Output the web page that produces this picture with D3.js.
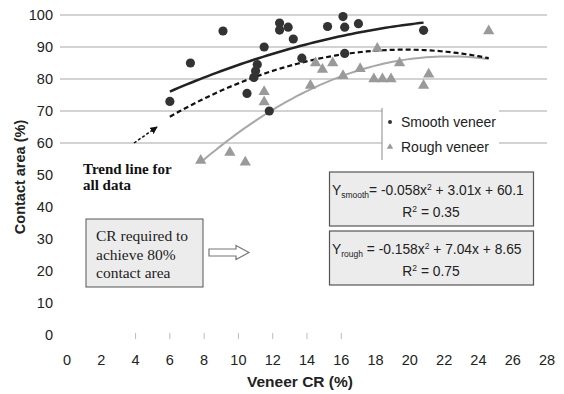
<!DOCTYPE html>
<html>
<head>
<meta charset="utf-8">
<script src="https://cdn.jsdelivr.net/npm/d3@7"></script>
<style>
  html, body { margin: 0; padding: 0; background: #fff; }
  svg { display: block; }
  text { font-family: "Liberation Sans", Arial, sans-serif; }
</style>
</head>
<body>
<svg id="chart" width="564" height="394"></svg>
<script>
// Contact area vs. veneer compression ratio (CR)
const smoothX = [6.0, 7.2, 9.1, 10.5, 10.9, 11.0, 11.1, 11.5, 11.8, 12.4, 12.4, 12.9, 13.2, 13.7, 15.2, 16.1, 16.2, 16.2, 17.0, 20.8];
const smoothY = [73, 85, 95, 75.5, 80.5, 82.5, 84.5, 90, 70, 97.5, 95.3, 96.2, 92.5, 86.5, 96.4, 99.5, 96.2, 88, 97.3, 95.2];

const roughX = [7.8, 9.5, 10.4, 11.5, 11.5, 14.2, 14.5, 14.9, 15.5, 16.1, 17.1, 17.9, 18.1, 18.4, 18.9, 19.4, 20.8, 21.1, 24.6];
const roughY = [54.5, 57, 54, 76, 72.8, 78, 85, 83, 85, 81, 83.2, 80, 89.5, 80, 80, 85, 78, 81.5, 95];

// Quadratic trend coefficients [a, b, c] for y = a x^2 + b x + c
const smoothFit = [-0.058, 3.01, 60.1];
const roughFit = [-0.158, 7.04, 8.65];
const allFit = [-0.1115, 4.396, 45.84];

const xTicks = [0, 2, 4, 6, 8, 10, 12, 14, 16, 18, 20, 22, 24, 26, 28];
const yTicks = [0, 10, 20, 30, 40, 50, 60, 70, 80, 90, 100];
const gridValues = [60, 70, 80, 90, 100];
const faintTicks = [4, 6, 8, 10, 12, 14, 16];

const svg = d3.select("#chart");
const x = d3.scaleLinear().domain([0, 28]).range([67, 547]);
const y = d3.scaleLinear().domain([0, 100]).range([335, 15]);

// horizontal gridlines
svg.append("g").selectAll("line").data(gridValues).join("line")
  .attr("x1", 60).attr("x2", 547)
  .attr("y1", d => y(d)).attr("y2", d => y(d))
  .attr("stroke", "#c4c4c4").attr("stroke-width", 1.5);

// faint marks along the base
svg.append("g").selectAll("line").data(faintTicks).join("line")
  .attr("x1", d => x(d)).attr("x2", d => x(d))
  .attr("y1", y(0) - 2).attr("y2", y(0) + 4)
  .attr("stroke", "#bbb").attr("stroke-width", 1);

// y tick labels
svg.append("g").selectAll("text").data(yTicks).join("text")
  .attr("x", 53).attr("y", d => y(d)).attr("dy", "0.35em")
  .attr("text-anchor", "end").attr("font-size", 14.5).attr("fill", "#222")
  .text(d => d);

// x tick labels
svg.append("g").selectAll("text").data(xTicks).join("text")
  .attr("x", d => x(d)).attr("y", 360).attr("dy", "0.35em")
  .attr("text-anchor", "middle").attr("font-size", 14.5).attr("fill", "#222")
  .text(d => d);

// axis titles
svg.append("text")
  .attr("transform", "translate(20,177) rotate(-90)")
  .attr("text-anchor", "middle").attr("dy", "0.35em")
  .attr("font-size", 14.5).attr("font-weight", "bold").attr("fill", "#222")
  .text("Contact area (%)");
svg.append("text")
  .attr("x", 300).attr("y", 382).attr("dy", "0.35em")
  .attr("text-anchor", "middle")
  .attr("font-size", 15.5).attr("font-weight", "bold").attr("fill", "#222")
  .text("Veneer CR (%)");

// trend curves
function curve(fit, x0, x1) {
  const pts = d3.range(0, 61).map(i => {
    const v = x0 + (x1 - x0) * i / 60;
    return [v, fit[0] * v * v + fit[1] * v + fit[2]];
  });
  return d3.line().x(d => x(d[0])).y(d => y(d[1]))(pts);
}
const allX = smoothX.concat(roughX);

svg.append("path").attr("d", curve(roughFit, d3.min(roughX), d3.max(roughX)))
  .attr("fill", "none").attr("stroke", "#a8a8a8").attr("stroke-width", 2);
svg.append("path").attr("d", curve(allFit, d3.min(allX), d3.max(allX)))
  .attr("fill", "none").attr("stroke", "#111").attr("stroke-width", 2.2)
  .attr("stroke-dasharray", "5,3");
svg.append("path").attr("d", curve(smoothFit, d3.min(smoothX), d3.max(smoothX)))
  .attr("fill", "none").attr("stroke", "#222").attr("stroke-width", 2.5);

// markers
const tri = d3.symbol().type(d3.symbolTriangle).size(55);
svg.append("g").selectAll("path").data(roughX.map((v, i) => [v, roughY[i]])).join("path")
  .attr("d", tri)
  .attr("transform", d => `translate(${x(d[0])},${y(d[1])})`)
  .attr("fill", "#9a9a9a");
svg.append("g").selectAll("circle").data(smoothX.map((v, i) => [v, smoothY[i]])).join("circle")
  .attr("cx", d => x(d[0])).attr("cy", d => y(d[1])).attr("r", 4.6)
  .attr("fill", "#333");

// legend
const lg = svg.append("g");
lg.append("rect").attr("x", 382).attr("y", 108).attr("width", 117).attr("height", 52).attr("fill", "#fff");
lg.append("line").attr("x1", 382).attr("x2", 382).attr("y1", 108).attr("y2", 160)
  .attr("stroke", "#888").attr("stroke-width", 1);
lg.append("circle").attr("cx", 390).attr("cy", 122).attr("r", 2).attr("fill", "#333");
lg.append("text").attr("x", 401).attr("y", 122).attr("dy", "0.35em")
  .attr("font-size", 14).attr("fill", "#222").text("Smooth veneer");
lg.append("path").attr("d", d3.symbol().type(d3.symbolTriangle).size(18))
  .attr("transform", "translate(390,147)").attr("fill", "#9a9a9a");
lg.append("text").attr("x", 401).attr("y", 147).attr("dy", "0.35em")
  .attr("font-size", 14).attr("fill", "#222").text("Rough veneer");

// annotation: trend line for all data
const serif = "'Liberation Serif', 'Times New Roman', serif";
const note = svg.append("g").attr("font-weight", "bold").attr("font-size", 15).attr("fill", "#111");
note.append("text").attr("x", 83).attr("y", 174).text("Trend line for").style("font-family", serif);
note.append("text").attr("x", 83).attr("y", 190).text("all data").style("font-family", serif);
svg.append("defs").append("marker")
  .attr("id", "ah").attr("viewBox", "0 0 10 10").attr("refX", 9).attr("refY", 5)
  .attr("markerWidth", 5).attr("markerHeight", 5).attr("orient", "auto")
  .append("path").attr("d", "M0,0 L10,5 L0,10 z").attr("fill", "#111");
svg.append("line").attr("x1", 134).attr("y1", 143).attr("x2", 157).attr("y2", 127)
  .attr("stroke", "#111").attr("stroke-width", 1.5).attr("stroke-dasharray", "3,2")
  .attr("marker-end", "url(#ah)");

// annotation box: CR required
svg.append("rect").attr("x", 86).attr("y", 219).attr("width", 117).attr("height", 68)
  .attr("fill", "#ececec").attr("stroke", "#555").attr("stroke-width", 1);
const crLines = ["CR required to", "achieve 80%", "contact area"];
svg.append("g").selectAll("text").data(crLines).join("text")
  .attr("x", 96).attr("y", (d, i) => 241 + i * 18.5)
  .attr("font-size", 15.5).attr("fill", "#222")
  .style("font-family", serif)
  .text(d => d);

// block arrow
svg.append("path")
  .attr("d", "M209,249 L236,249 L236,245.5 L249,252.5 L236,259.5 L236,256 L209,256 Z")
  .attr("fill", "#fff").attr("stroke", "#777").attr("stroke-width", 1.2);

// equation boxes
function eqBox(top, sub, eq, r2) {
  const g = svg.append("g");
  g.append("rect").attr("x", 329.5).attr("y", top).attr("width", 204).attr("height", 54)
    .attr("fill", "#ececec").attr("stroke", "#555").attr("stroke-width", 1.2);
  const t = g.append("text").attr("x", 332).attr("y", top + 18).attr("dy", "0.35em")
    .attr("font-size", 13.8).attr("fill", "#222");
  t.append("tspan").text("Y");
  t.append("tspan").attr("font-size", 8.5).attr("dy", 3).text(sub);
  t.append("tspan").attr("dy", -3).text(eq[0]);
  t.append("tspan").attr("font-size", 8.5).attr("dy", -5).text("2");
  t.append("tspan").attr("dy", 5).text(eq[1]);
  const r = g.append("text").attr("x", 431).attr("y", top + 40).attr("dy", "0.35em")
    .attr("text-anchor", "middle").attr("font-size", 13.8).attr("fill", "#222");
  r.append("tspan").text("R");
  r.append("tspan").attr("font-size", 8.5).attr("dy", -5).text("2");
  r.append("tspan").attr("dy", 5).text(" = " + r2);
}
eqBox(172, "smooth", ["= -0.058x", " + 3.01x + 60.1"], "0.35");
eqBox(231, "rough", [" = -0.158x", " + 7.04x + 8.65"], "0.75");
</script>
</body>
</html>
